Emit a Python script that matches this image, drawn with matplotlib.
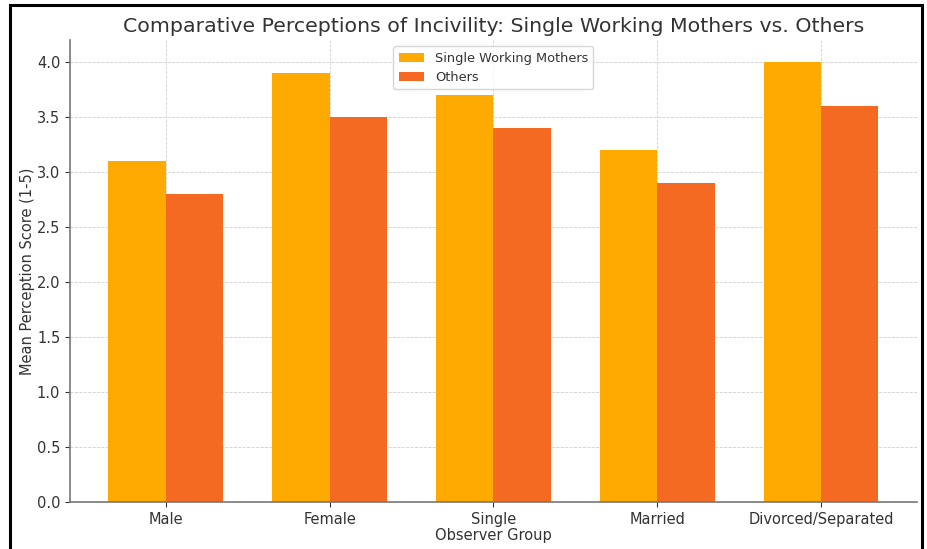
import matplotlib
matplotlib.use('Agg')
import matplotlib.pyplot as plt
import numpy as np
from matplotlib.patches import Rectangle

groups = ['Male', 'Female', 'Single', 'Married', 'Divorced/Separated']
single_working_mothers = [3.1, 3.9, 3.7, 3.2, 4.0]
others = [2.8, 3.5, 3.4, 2.9, 3.6]

plt.rcParams['text.color'] = '#333333'
plt.rcParams['axes.labelcolor'] = '#333333'
plt.rcParams['xtick.color'] = '#333333'
plt.rcParams['ytick.color'] = '#333333'

fig = plt.figure(figsize=(9.27, 5.49), dpi=100)
ax = fig.add_axes([0.0755, 0.0856, 0.9135, 0.8415])

x = np.arange(len(groups))
w = 0.35
ax.bar(x - w / 2, single_working_mothers, w, color='#FFAA00', label='Single Working Mothers')
ax.bar(x + w / 2, others, w, color='#F46A22', label='Others')

ax.set_xticks(x)
ax.set_xticklabels(groups, fontsize=10.5)
ax.tick_params(axis='y', labelsize=10.5)
ax.set_xlabel('Observer Group', fontsize=10.5, labelpad=1)
ax.set_ylabel('Mean Perception Score (1-5)', fontsize=10.5, labelpad=1)
ax.set_title('Comparative Perceptions of Incivility: Single Working Mothers vs. Others',
             fontsize=14.75, pad=6)

ax.grid(True, linestyle='--', color='#d0d0d0', linewidth=0.6)
ax.set_axisbelow(True)
for s in ['top', 'right']:
    ax.spines[s].set_visible(False)
for s in ['left', 'bottom']:
    ax.spines[s].set_color('#777777')
    ax.spines[s].set_linewidth(1.2)

ax.legend(loc='upper center', fontsize=9.3, frameon=True)

# black frame around the picture
fig.patches.append(Rectangle((10 / 927, -0.05), 912 / 927, 1.05 - 5 / 549,
                             transform=fig.transFigure, fill=False,
                             edgecolor='black', linewidth=2.2))

fig.savefig('out.png', dpi=100)
